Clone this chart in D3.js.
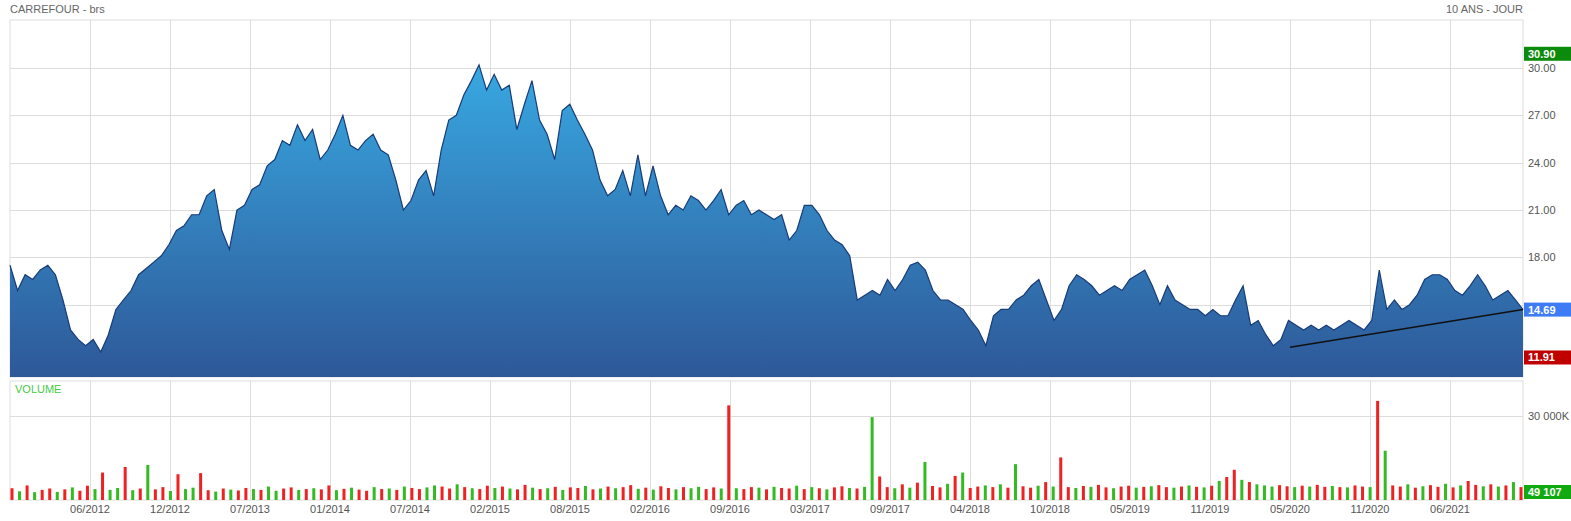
<!DOCTYPE html>
<html>
<head>
<meta charset="utf-8">
<title>Carrefour 10 ans</title>
<script src="https://cdn.jsdelivr.net/npm/d3@7"></script>
<style>
  body { margin: 0; background: #fff; font-family: Arial, "Liberation Sans", sans-serif; }
  text { font-family: Arial, "Liberation Sans", sans-serif; }
</style>
</head>
<body>
<svg id="chart" width="1571" height="521"></svg>
<script>
// price samples, evenly spread over the 10 years (EUR)
const prices = [17.5,15.9,16.9,16.6,17.2,17.5,16.9,15.3,13.4,12.8,12.4,12.8,12.0,13.1,14.7,15.3,15.9,16.9,17.3,17.7,
  18.1,18.8,19.7,20.0,20.7,20.7,21.9,22.3,19.7,18.5,21.0,21.3,22.3,22.6,23.8,24.2,25.4,25.1,26.4,25.4,
  26.1,24.2,24.8,25.8,27.0,25.1,24.8,25.4,25.8,24.8,24.5,22.9,21.0,21.6,22.9,23.5,21.9,24.8,26.7,27.0,
  28.3,29.2,30.2,28.6,29.6,28.6,28.9,26.1,27.7,29.2,26.7,25.8,24.2,27.3,27.7,26.7,25.8,24.8,22.9,21.9,
  22.3,23.5,21.9,24.5,21.9,23.8,21.9,20.7,21.3,21.0,21.9,21.6,21.0,21.6,22.3,20.7,21.3,21.6,20.7,21.0,
  20.7,20.4,20.7,19.1,19.7,21.3,21.3,20.7,19.7,19.1,18.8,18.1,15.3,15.6,15.9,15.6,16.6,15.9,16.6,17.5,
  17.7,17.2,15.9,15.3,15.3,15.0,14.7,14.0,13.4,12.4,14.3,14.7,14.7,15.3,15.6,16.2,16.6,15.3,14.0,14.7,
  16.2,16.9,16.6,16.2,15.6,15.9,16.2,15.9,16.6,16.9,17.2,16.2,15.0,16.2,15.3,15.0,14.7,14.7,14.3,14.7,
  14.3,14.3,15.3,16.2,13.7,14.0,13.1,12.4,12.8,14.0,13.7,13.4,13.7,13.4,13.7,13.4,13.7,14.0,13.7,13.4,
  14.0,17.2,14.7,15.3,14.7,15.0,15.6,16.6,16.9,16.9,16.6,15.9,15.6,16.2,16.9,16.2,15.3,15.6,15.9,15.3,14.69];

// volume samples (thousands of shares)
const volumes = [4200,3100,5200,2800,3600,4100,2900,3800,4500,3300,5100,3900,9800,3600,4300,11800,3500,4100,12500,3800,
  4600,3200,9200,3900,4400,9600,3500,3000,4100,3700,3400,4300,3900,3600,4800,3300,4100,4500,3600,3900,
  4200,3800,5200,3500,4000,4400,3700,3300,4600,3900,4100,3600,4800,4300,3900,4500,5200,4800,4100,5600,
  4600,4200,3900,5100,4300,4800,4100,3800,5400,4400,3900,4200,4700,3600,4500,4300,5000,3800,4100,4800,
  4200,4600,5300,4000,4400,3700,4900,4300,3800,4600,4200,4700,3900,4500,4100,33800,4200,3900,4600,4400,
  3800,4700,4300,4100,5100,3900,4600,4200,3800,4500,4900,4300,4100,4700,29600,8400,4600,4200,5600,4400,
  6200,13600,5000,4500,5800,8600,9800,4300,4800,5200,4600,5600,4400,12800,4900,4400,5100,6400,4800,15200,
  4600,4300,5000,4700,5400,4500,4200,4800,5100,4400,4700,4900,5300,4600,4400,4800,5200,4700,4500,5100,
  6800,8200,10800,7200,6400,5600,5200,4800,5300,4900,4600,5100,4800,5400,4700,5000,4600,4500,5200,4800,
  4600,35400,17600,5200,4800,5600,4400,4900,5300,4700,5800,4500,5200,6800,5400,4900,5600,4800,5200,6400,4600];
// sessions closing up ("g") or down ("r"), one per volume sample
const volumeDir = ("rgrgrrgrgrrgrggrgrgrrgrggrrgrgrrgrggrrgr" +
  "grrgrgrrgrgrgrrggrrgrgrrgrgrrgrgrgrrgrgr" +
  "grrgrgrrgrggrrgrgrrgrgrrgrgrgrrgrggrrgrg" +
  "rgrrgrgrrgrgrgrrgrgrrgrgrrgrrgrgrrgrgrgr" +
  "grrgrgggrrgrgrrgrgrrgrgrrgrgrrgrgrrgrgrg").split("");

const xTicks = ["06/2012","12/2012","07/2013","01/2014","07/2014","02/2015","08/2015","02/2016","09/2016",
  "03/2017","09/2017","04/2018","10/2018","05/2019","11/2019","05/2020","11/2020","06/2021"];
const priceTicks = [15, 18, 21, 24, 27, 30];
const volTicks = [30000];

const lastPrice = 14.69, highPrice = 30.90, lowPrice = 11.91, lastVolume = "49 107";
// support line: from the spring 2020 low to the last session (fraction of period)
const trend = [{t: 0.846, v: 12.3}, {t: 1, v: 14.69}];

const svg = d3.select("#chart");
const L = 10, R = 1523, pTop = 20, pBot = 377, vTop = 381, vBot = 500;

const t = d3.scaleLinear().domain([0, 1]).range([L, R]);
const y = d3.scaleLinear().domain([10.42, 33.04]).range([pBot, pTop]);
const yv = d3.scaleLinear().domain([0, 30000]).range([vBot, 416]);

// header
svg.append("text").attr("x", 10).attr("y", 13).attr("font-size", 11).attr("fill", "#666").text("CARREFOUR - brs");
svg.append("text").attr("x", R).attr("y", 13).attr("font-size", 11).attr("fill", "#666")
  .attr("text-anchor", "end").text("10 ANS - JOUR");

// panels
[[pTop, pBot], [vTop, vBot]].forEach(([a, b]) => {
  svg.append("rect").attr("x", L).attr("y", a).attr("width", R - L).attr("height", b - a)
    .attr("fill", "none").attr("stroke", "#ddd");
});

// grid
const tickT = xTicks.map((d, i) => (i + 1) * 80 / (R - L));
const grid = svg.append("g").attr("stroke", "#ddd").attr("stroke-width", 1);
tickT.forEach(d => {
  const x = Math.round(t(d)) + 0.5;
  grid.append("line").attr("x1", x).attr("x2", x).attr("y1", pTop).attr("y2", pBot);
  grid.append("line").attr("x1", x).attr("x2", x).attr("y1", vTop).attr("y2", vBot);
});
priceTicks.forEach(d => {
  const yy = Math.round(y(d)) + 0.5;
  grid.append("line").attr("x1", L).attr("x2", R).attr("y1", yy).attr("y2", yy);
});
volTicks.forEach(d => {
  const yy = Math.round(yv(d)) + 0.5;
  grid.append("line").attr("x1", L).attr("x2", R).attr("y1", yy).attr("y2", yy);
});

// area gradient
const defs = svg.append("defs");
const grad = defs.append("linearGradient").attr("id", "g1").attr("gradientUnits", "userSpaceOnUse")
  .attr("x1", 0).attr("x2", 0).attr("y1", y(30.5)).attr("y2", pBot);
grad.append("stop").attr("offset", 0).attr("stop-color", "#38a9e2");
grad.append("stop").attr("offset", 1).attr("stop-color", "#2e5898");

const px = d3.scaleLinear().domain([0, prices.length - 1]).range([L, R]);
svg.append("path").datum(prices)
  .attr("d", d3.area().x((d, i) => px(i)).y0(pBot).y1(d => y(d)))
  .attr("fill", "url(#g1)");
svg.append("path").datum(prices)
  .attr("d", d3.line().x((d, i) => px(i)).y(d => y(d)))
  .attr("fill", "none").attr("stroke", "#173c78").attr("stroke-width", 1.2);

svg.append("path").datum(trend)
  .attr("d", d3.line().x(d => t(d.t)).y(d => y(d.v)))
  .attr("stroke", "#111").attr("stroke-width", 1.5).attr("fill", "none");

// volume bars
const vx = d3.scaleLinear().domain([0, volumes.length - 1]).range([L + 2, R - 2]);
svg.append("g").selectAll("rect").data(volumes).join("rect")
  .attr("x", (d, i) => vx(i) - 1.5)
  .attr("width", 3)
  .attr("y", d => yv(d))
  .attr("height", d => vBot - yv(d))
  .attr("fill", (d, i) => volumeDir[i] === "g" ? "#33bb22" : "#ee2222");
svg.append("text").attr("x", 15).attr("y", 393).attr("font-size", 11).attr("fill", "#44cc44").text("VOLUME");

// axis labels
const lab = svg.append("g").attr("font-size", 11).attr("fill", "#555");
priceTicks.forEach(d => {
  if (Math.abs(y(d) - y(lastPrice)) < 12) return; // hidden behind the last-price badge
  lab.append("text").attr("x", 1528).attr("y", y(d) + 4).text(d.toFixed(2));
});
volTicks.forEach(d => {
  lab.append("text").attr("x", 1528).attr("y", yv(d) + 4).text(d3.format(",")(d / 1000).replace(",", " ") + " 000K");
});
xTicks.forEach((d, i) => {
  lab.append("text").attr("x", t(tickT[i])).attr("y", 513).attr("text-anchor", "middle").text(d);
});

// value boxes
function badge(yc, txt, col) {
  svg.append("rect").attr("x", 1524).attr("y", yc - 7).attr("width", 47).attr("height", 14).attr("fill", col);
  svg.append("text").attr("x", 1528).attr("y", yc + 4).attr("font-size", 11).attr("font-weight", "bold")
    .attr("fill", "#fff").text(txt);
}
badge(y(highPrice), highPrice.toFixed(2), "#0b8a0b");
badge(y(lastPrice), lastPrice.toFixed(2), "#3d7cf5");
badge(y(lowPrice) + 4, lowPrice.toFixed(2), "#c00000");
badge(492, lastVolume, "#11aa11");
</script>
</body>
</html>
